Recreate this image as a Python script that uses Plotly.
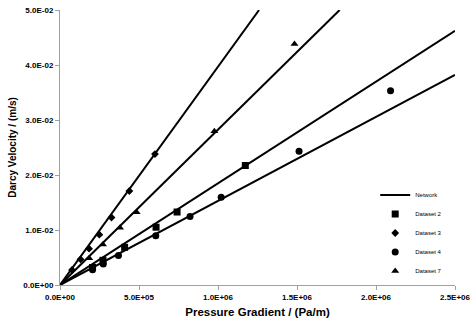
import plotly.graph_objects as go

# Network lines (four straight lines through the origin), segments separated by None
network_x = [0, 1.26e6, None, 0, 1.77e6, None, 0, 2.5e6, None, 0, 2.5e6]
network_y = [0, 0.05, None, 0, 0.05, None, 0, 0.0462, None, 0, 0.0382]

ds2_x = [2.06e5, 2.72e5, 4.09e5, 6.08e5, 7.41e5, 1.173e6]
ds2_y = [0.00318, 0.00449, 0.00685, 0.01051, 0.01327, 0.02173]

ds3_x = [7.6e4, 1.30e5, 1.84e5, 2.49e5, 3.26e5, 4.39e5, 6.01e5]
ds3_y = [0.00273, 0.00467, 0.0066, 0.00915, 0.01227, 0.01709, 0.0238]

ds4_x = [2.06e5, 2.74e5, 3.70e5, 6.06e5, 8.23e5, 1.020e6, 1.513e6, 2.092e6]
ds4_y = [0.00278, 0.00382, 0.00536, 0.00895, 0.01245, 0.01596, 0.02433, 0.03531]

ds7_x = [1.85e5, 2.72e5, 3.80e5, 4.85e5, 9.77e5, 1.484e6]
ds7_y = [0.00485, 0.00736, 0.01042, 0.01322, 0.02795, 0.0438]

x_tickvals = [0, 5e5, 1e6, 1.5e6, 2e6, 2.5e6]
x_ticktext = ["0.0E+00", "5.0E+05", "1.0E+06", "1.5E+06", "2.0E+06", "2.5E+06"]
y_tickvals = [0, 0.01, 0.02, 0.03, 0.04, 0.05]
y_ticktext = ["0.0E+00", "1.0E-02", "2.0E-02", "3.0E-02", "4.0E-02", "5.0E-02"]

FONT = "Liberation Sans, Arial, sans-serif"

fig = go.Figure()
fig.add_trace(go.Scatter(x=network_x, y=network_y, mode="lines", name="Network",
                         line=dict(color="black", width=2), connectgaps=False))
fig.add_trace(go.Scatter(x=ds2_x, y=ds2_y, mode="markers", name="Dataset 2",
                         marker=dict(symbol="square", size=7, color="black")))
fig.add_trace(go.Scatter(x=ds3_x, y=ds3_y, mode="markers", name="Dataset 3",
                         marker=dict(symbol="diamond", size=6, color="black")))
fig.add_trace(go.Scatter(x=ds4_x, y=ds4_y, mode="markers", name="Dataset 4",
                         marker=dict(symbol="circle", size=7, color="black")))
fig.add_trace(go.Scatter(x=ds7_x, y=ds7_y, mode="markers", name="Dataset 7",
                         marker=dict(symbol="triangle-up", size=7, color="black")))

axis_common = dict(showgrid=False, zeroline=False, showline=True, linecolor="#a0a0a0",
                   linewidth=1, ticks="outside", tickcolor="#a0a0a0", ticklen=4,
                   automargin=False,
                   tickfont=dict(family=FONT, size=8, color="black", weight="bold"))

fig.update_layout(
    width=475, height=325,
    margin=dict(l=60, r=20, t=10, b=40),
    paper_bgcolor="white", plot_bgcolor="white",
    font=dict(family=FONT, color="black"),
    xaxis=dict(range=[0, 2.5e6], tickvals=x_tickvals, ticktext=x_ticktext,
               title=dict(text="Pressure Gradient / (Pa/m)", standoff=7,
                          font=dict(family=FONT, size=11.5, color="black", weight="bold")),
               **axis_common),
    yaxis=dict(range=[0, 0.05], tickvals=y_tickvals, ticktext=y_ticktext,
               title=dict(text="Darcy Velocity / (m/s)", standoff=4,
                          font=dict(family=FONT, size=10, color="black", weight="bold")),
               **axis_common),
    legend=dict(x=0.798, y=0.38, xanchor="left", yanchor="top",
                font=dict(family=FONT, size=6, color="black"),
                itemwidth=30, tracegroupgap=0, bgcolor="rgba(0,0,0,0)"),
    showlegend=True,
)

fig.write_html("out.html", config={"displayModeBar": False},
               post_script="document.body.style.margin='0px';")
